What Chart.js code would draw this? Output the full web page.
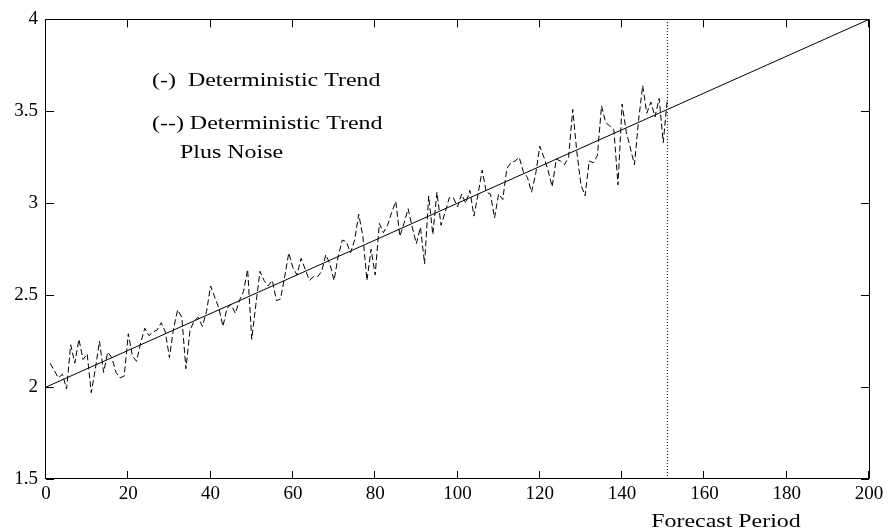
<!DOCTYPE html>
<html>
<head>
<meta charset="utf-8">
<title>Deterministic Trend</title>
<script src="https://cdn.jsdelivr.net/npm/chart.js@4/dist/chart.umd.min.js"></script>
<style>
  html, body { margin: 0; padding: 0; background: #ffffff; }
  #wrap { width: 892px; height: 532px; }
</style>
</head>
<body>
<div id="wrap"><canvas id="chart" width="892" height="532"></canvas></div>
<script>
// Tick labels of the two axes
const xTickValues = [0, 20, 40, 60, 80, 100, 120, 140, 160, 180, 200];
const yTickValues = [1.5, 2, 2.5, 3, 3.5, 4];

// Deterministic trend: straight line through its two end points
const trendPeriods = [0, 200];
const trendValues = [2, 4];

// Trend plus noise, one value per period starting at period 1
const firstNoisyPeriod = 1;
const noisyValues = [
  2.13, 2.09, 2.05, 2.07, 1.99, 2.23, 2.13, 2.26, 2.15, 2.18,
  1.97, 2.10, 2.25, 2.08, 2.19, 2.16, 2.08, 2.05, 2.06, 2.29,
  2.17, 2.14, 2.24, 2.32, 2.28, 2.30, 2.31, 2.35, 2.30, 2.16,
  2.32, 2.42, 2.38, 2.10, 2.31, 2.36, 2.38, 2.33, 2.41, 2.55,
  2.49, 2.43, 2.33, 2.43, 2.45, 2.40, 2.47, 2.52, 2.64, 2.26,
  2.45, 2.63, 2.58, 2.55, 2.58, 2.47, 2.48, 2.60, 2.73, 2.65,
  2.61, 2.70, 2.64, 2.58, 2.60, 2.60, 2.63, 2.72, 2.67, 2.58,
  2.71, 2.80, 2.79, 2.73, 2.80, 2.94, 2.82, 2.58, 2.75, 2.61,
  2.89, 2.84, 2.88, 2.95, 3.01, 2.82, 2.89, 2.97, 2.87, 2.78,
  2.87, 2.67, 3.04, 2.83, 3.06, 2.88, 2.95, 3.03, 3.03, 2.98,
  3.05, 3.00, 3.07, 2.93, 3.05, 3.18, 3.06, 3.05, 2.92, 3.05,
  3.02, 3.19, 3.22, 3.23, 3.25, 3.17, 3.14, 3.06, 3.16, 3.31,
  3.25, 3.18, 3.09, 3.24, 3.23, 3.21, 3.25, 3.51, 3.28, 3.10,
  3.04, 3.23, 3.22, 3.26, 3.53, 3.44, 3.42, 3.40, 3.10, 3.54,
  3.39, 3.30, 3.21, 3.45, 3.64, 3.49, 3.55, 3.47, 3.57, 3.33,
  3.57
];

// Start of the forecast period (dotted vertical marker)
const forecastStart = 151;
const forecastSpan = [1.5, 4];

// Annotation texts
const noteSolid = '(-)  Deterministic Trend';
const noteDashed = '(--) Deterministic Trend';
const noteDashed2 = 'Plus Noise';
const xAxisTitle = 'Forecast Period';

const SERIF = '"Liberation Serif", "Times New Roman", Times, serif';
const TEXT_STRETCH = 1.33;

const noisyPoints = noisyValues.map((v, i) => ({ x: firstNoisyPeriod + i, y: v }));
const trendPoints = trendPeriods.map((p, i) => ({ x: p, y: trendValues[i] }));
const forecastPoints = forecastSpan.map(v => ({ x: forecastStart, y: v }));

// Frame, inward tick marks on all four sides, and stretched annotation text
const framePlugin = {
  id: 'frameAndNotes',
  afterDatasetsDraw(chart) {
    const ctx = chart.ctx;
    const a = chart.chartArea;
    const xs = chart.scales.x, ys = chart.scales.y;
    const tick = 8;
    ctx.save();
    ctx.strokeStyle = '#000';
    ctx.lineWidth = 1;
    ctx.setLineDash([]);
    ctx.beginPath();
    ctx.rect(Math.round(a.left) - 0.5, Math.round(a.top) + 0.5,
             Math.round(a.right) - Math.round(a.left) + 1, Math.round(a.bottom) - Math.round(a.top) - 1);
    for (const v of xTickValues) {
      const px = Math.round(xs.getPixelForValue(v)) - 0.5;
      ctx.moveTo(px, a.bottom); ctx.lineTo(px, a.bottom - tick);
      ctx.moveTo(px, a.top); ctx.lineTo(px, a.top + tick);
    }
    for (const v of yTickValues) {
      const py = Math.round(ys.getPixelForValue(v)) + 0.5;
      ctx.moveTo(a.left, py); ctx.lineTo(a.left + tick, py);
      ctx.moveTo(a.right, py); ctx.lineTo(a.right - tick, py);
    }
    ctx.stroke();

    const stretched = (text, x, y) => {
      ctx.save();
      ctx.translate(x, y);
      ctx.scale(TEXT_STRETCH, 1);
      ctx.fillText(text, 0, 0);
      ctx.restore();
    };
    ctx.fillStyle = '#000';
    ctx.font = '18px ' + SERIF;
    ctx.textBaseline = 'alphabetic';
    ctx.textAlign = 'left';
    stretched(noteSolid, 152, 86);
    stretched(noteDashed, 152, 129);
    stretched(noteDashed2, 180, 158);
    ctx.textAlign = 'center';
    stretched(xAxisTitle, 726, 527);
    ctx.restore();
  }
};

new Chart(document.getElementById('chart'), {
  type: 'line',
  data: {
    datasets: [
      {
        data: noisyPoints,
        borderColor: '#000',
        borderWidth: 1,
        borderDash: [6, 3],
        pointRadius: 0,
        tension: 0,
        fill: false
      },
      {
        data: trendPoints,
        borderColor: '#000',
        borderWidth: 1,
        pointRadius: 0,
        fill: false
      },
      {
        data: forecastPoints,
        borderColor: '#000',
        borderWidth: 1,
        borderDash: [1, 2],
        pointRadius: 0,
        fill: false
      }
    ]
  },
  options: {
    responsive: false,
    animation: false,
    devicePixelRatio: 1,
    layout: { padding: { top: 12, right: 23, left: 0, bottom: 0 } },
    plugins: { legend: { display: false }, tooltip: { enabled: false } },
    scales: {
      x: {
        type: 'linear',
        min: 0,
        max: 200,
        afterBuildTicks: s => { s.ticks = xTickValues.map(v => ({ value: v })); },
        afterFit: s => { s.height = 53; },
        grid: { display: false, drawTicks: false },
        border: { display: false },
        ticks: {
          color: '#000', padding: 4, maxRotation: 0,
          font: { family: SERIF, size: 19 },
          callback: v => String(v)
        }
      },
      y: {
        type: 'linear',
        min: 1.5,
        max: 4,
        afterBuildTicks: s => { s.ticks = yTickValues.map(v => ({ value: v })); },
        afterFit: s => { s.width = 46; },
        grid: { display: false, drawTicks: false },
        border: { display: false },
        ticks: {
          color: '#000', padding: 8,
          font: { family: SERIF, size: 19 },
          callback: v => String(v)
        }
      }
    }
  },
  plugins: [framePlugin]
});
</script>
</body>
</html>
